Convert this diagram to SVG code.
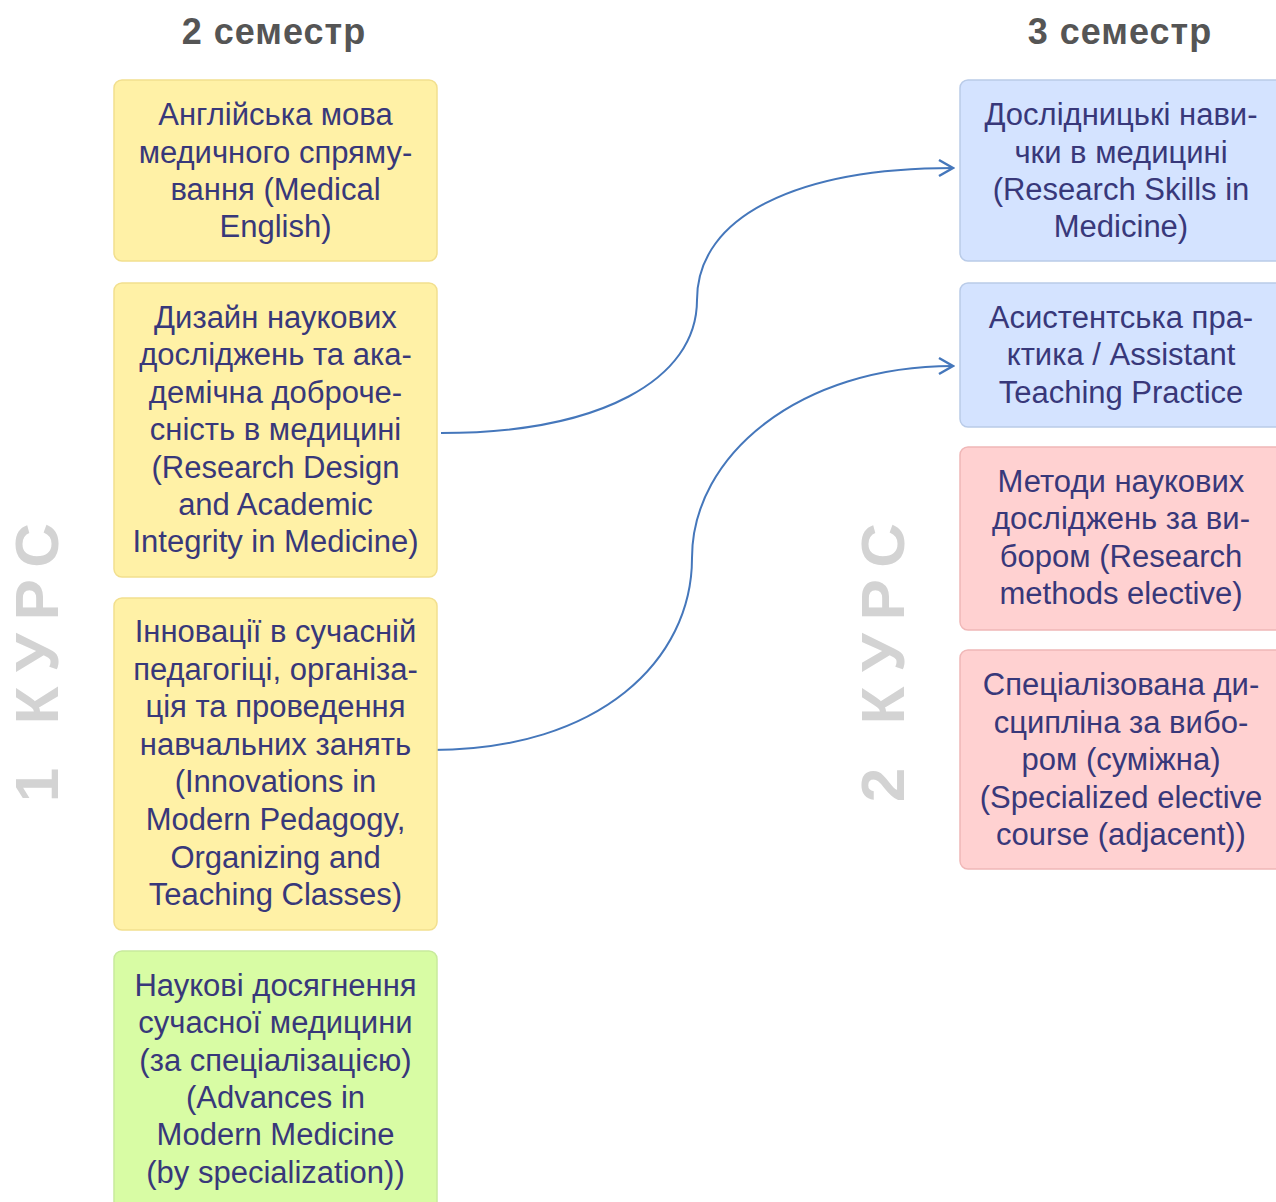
<svg xmlns="http://www.w3.org/2000/svg" width="1276" height="1202" viewBox="0 0 1276 1202">
<defs>
<style>
.t{font-family:"Liberation Sans",Arial,sans-serif;font-size:31px;fill:#38387a;text-anchor:middle}
.h{font-family:"Liberation Sans",Arial,sans-serif;font-size:36px;font-weight:bold;fill:#555;text-anchor:middle;letter-spacing:1px}
.v{font-family:"Liberation Sans",Arial,sans-serif;font-size:62px;font-weight:bold;fill:#d3d3d3;text-anchor:middle;letter-spacing:13px}
.y{fill:#fff1a6;stroke:#f2df8e;stroke-width:1.5}
.b{fill:#d4e3ff;stroke:#b9cbe8;stroke-width:1.5}
.r{fill:#ffd1d1;stroke:#f0b7b7;stroke-width:1.5}
.g{fill:#d8fca4;stroke:#c8ea9c;stroke-width:1.5}
.c{fill:none;stroke:#4577bb;stroke-width:2}
</style>
<marker id="arr" viewBox="0 0 18 20" refX="16" refY="10" markerWidth="18" markerHeight="20" markerUnits="userSpaceOnUse" orient="auto">
<path d="M2,2 L16,10 L2,18" fill="none" stroke="#4577bb" stroke-width="2.5"/>
</marker>
</defs>
<rect width="1276" height="1202" fill="#fff"/>
<text class="h" x="274" y="44">2 семестр</text>
<text class="h" x="1120" y="44">3 семестр</text>
<text class="v" transform="translate(58,656) rotate(-90)">1 КУРС</text>
<text class="v" transform="translate(904,656) rotate(-90)">2 КУРС</text>
<g id="connectors">
<path class="c" marker-end="url(#arr)" d="M441,433 C600,433 697,380 697,300 C697,215 800,168 953,168"/>
<path class="c" marker-end="url(#arr)" d="M432,750 C600,750 692,660 692,558 C692,455 800,366 953,366"/>
</g>
<g id="n1"><rect class="y" x="114" y="80" width="323" height="181" rx="8"/>
<text class="t"><tspan x="275.5" y="125">Англійська мова</tspan><tspan x="275.5" y="163">медичного спряму-</tspan><tspan x="275.5" y="200">вання (Medical</tspan><tspan x="275.5" y="237">English)</tspan></text></g>
<g id="n2"><rect class="y" x="114" y="283" width="323" height="294" rx="8"/>
<text class="t"><tspan x="275.5" y="328">Дизайн наукових</tspan><tspan x="275.5" y="365">досліджень та ака-</tspan><tspan x="275.5" y="403">демічна доброче-</tspan><tspan x="275.5" y="440">сність в медицині</tspan><tspan x="275.5" y="478">(Research Design</tspan><tspan x="275.5" y="515">and Academic</tspan><tspan x="275.5" y="552">Integrity in Medicine)</tspan></text></g>
<g id="n3"><rect class="y" x="114" y="598" width="323" height="332" rx="8"/>
<text class="t"><tspan x="275.5" y="642">Інновації в сучасній</tspan><tspan x="275.5" y="680">педагогіці, організа-</tspan><tspan x="275.5" y="717">ція та проведення</tspan><tspan x="275.5" y="755">навчальних занять</tspan><tspan x="275.5" y="792">(Innovations in</tspan><tspan x="275.5" y="830">Modern Pedagogy,</tspan><tspan x="275.5" y="868">Organizing and</tspan><tspan x="275.5" y="905">Teaching Classes)</tspan></text></g>
<g id="n4"><rect class="g" x="114" y="951" width="323" height="270" rx="8"/>
<text class="t"><tspan x="275.5" y="996">Наукові досягнення</tspan><tspan x="275.5" y="1033">сучасної медицини</tspan><tspan x="275.5" y="1071">(за спеціалізацією)</tspan><tspan x="275.5" y="1108">(Advances in</tspan><tspan x="275.5" y="1145">Modern Medicine</tspan><tspan x="275.5" y="1183">(by specialization))</tspan></text></g>
<g id="n5"><rect class="b" x="960" y="80" width="323" height="181" rx="8"/>
<text class="t"><tspan x="1121" y="125">Дослідницькі нави-</tspan><tspan x="1121" y="163">чки в медицині</tspan><tspan x="1121" y="200">(Research Skills in</tspan><tspan x="1121" y="237">Medicine)</tspan></text></g>
<g id="n6"><rect class="b" x="960" y="283" width="323" height="144" rx="8"/>
<text class="t"><tspan x="1121" y="328">Асистентська пра-</tspan><tspan x="1121" y="365">ктика / Assistant</tspan><tspan x="1121" y="403">Teaching Practice</tspan></text></g>
<g id="n7"><rect class="r" x="960" y="447" width="323" height="183" rx="8"/>
<text class="t"><tspan x="1121" y="492">Методи наукових</tspan><tspan x="1121" y="529">досліджень за ви-</tspan><tspan x="1121" y="567">бором (Research</tspan><tspan x="1121" y="604">methods elective)</tspan></text></g>
<g id="n8"><rect class="r" x="960" y="650" width="323" height="219" rx="8"/>
<text class="t"><tspan x="1121" y="695">Спеціалізована ди-</tspan><tspan x="1121" y="733">сципліна за вибо-</tspan><tspan x="1121" y="770">ром (суміжна)</tspan><tspan x="1121" y="808">(Specialized elective</tspan><tspan x="1121" y="845">course (adjacent))</tspan></text></g>
</svg>
